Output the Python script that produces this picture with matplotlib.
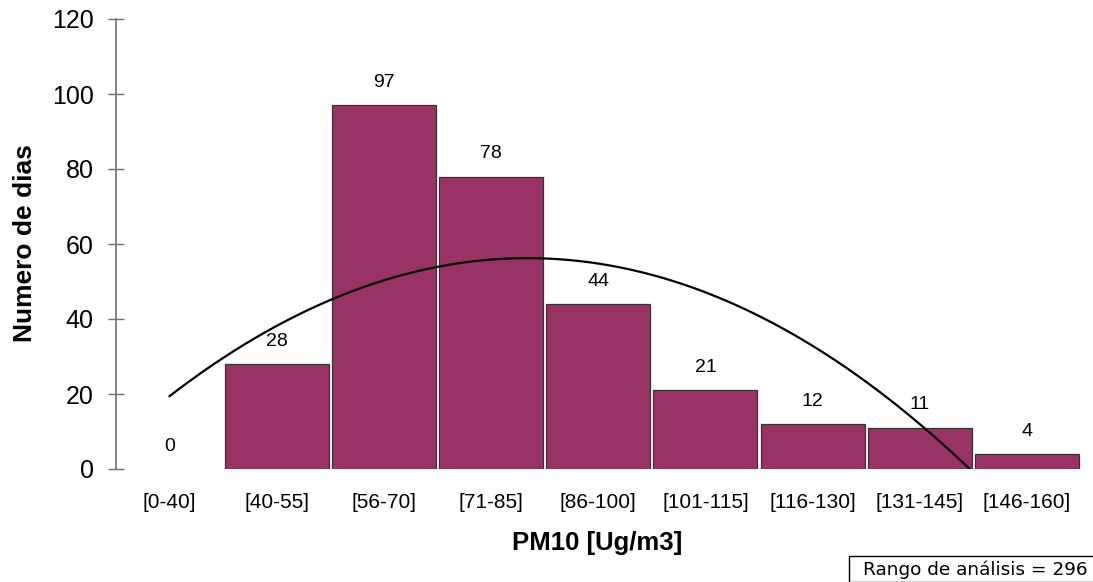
import numpy as np
import matplotlib.pyplot as plt
from matplotlib.patches import Rectangle

# PM10 concentration bins and number of days in each
categories = ["[0-40]", "[40-55]", "[56-70]", "[71-85]", "[86-100]",
              "[101-115]", "[116-130]", "[131-145]", "[146-160]"]
dias = [0, 28, 97, 78, 44, 21, 12, 11, 4]
y_ticks = [0, 20, 40, 60, 80, 100, 120]
rango_total = 296

plt.rcParams['font.family'] = ['Liberation Sans', 'DejaVu Sans']

W, H = 1093, 582
fig = plt.figure(figsize=(W / 100, H / 100), dpi=100)
ax = fig.add_axes([116 / W, (H - 469) / H, (1080.5 - 116) / W, 450 / H])

x = np.arange(len(categories))
bars = ax.bar(x, dias, width=0.97, color="#993366", edgecolor="#333333",
              linewidth=0.9, zorder=2)
for b, v in zip(bars, dias):
    if v == 0:
        b.set_visible(False)

for xi, v in zip(x, dias):
    ax.annotate(str(v), (xi, v), xytext=(0, 16.5), textcoords="offset points",
                ha="center", va="center", fontsize=14, color="black")

# second-order polynomial trend over the bin counts
coef = np.polyfit(x + 1, dias, 2)
xs = np.linspace(0, len(categories) - 1, 400)
ax.plot(xs, np.polyval(coef, xs + 1), color="black", linewidth=1.6, zorder=3)

ax.set_xlim(-0.5, len(categories) - 0.5)
ax.set_ylim(0, 120)
ax.set_yticks(y_ticks)
ax.set_xticks(x)
ax.set_xticklabels(categories)

for side in ["top", "right", "bottom"]:
    ax.spines[side].set_visible(False)
ax.spines["left"].set_color("#707070")
ax.spines["left"].set_linewidth(1.2)

ax.tick_params(axis="y", direction="inout", length=12, width=1.0, color="#707070",
               labelsize=18, pad=10)
ax.tick_params(axis="x", length=0, labelsize=15, pad=17)

ax.set_xlabel("PM10 [Ug/m3]", fontsize=18.5, fontweight="bold")
ax.xaxis.set_label_coords(0.4985, (469 - 543) / 450)
ax.xaxis.label.set_va("center")
ax.set_ylabel("Numero de dias", fontsize=19, fontweight="bold")
ax.yaxis.set_label_coords((25 - 116) / 964.5, (469 - 243) / 450)
ax.yaxis.label.set_va("center")

# sample-size note box in the lower right corner
fig.add_artist(Rectangle((849 / W, 0), (W + 10 - 849) / W, (H - 556) / H,
                         transform=fig.transFigure, facecolor="white",
                         edgecolor="black", linewidth=1.0, clip_on=False))
fig.text(863 / W, 1 - 570 / H, f"Rango de análisis = {rango_total}",
         fontsize=13.3, family="DejaVu Sans", va="center", ha="left")

fig.savefig("out.png", dpi=100)
